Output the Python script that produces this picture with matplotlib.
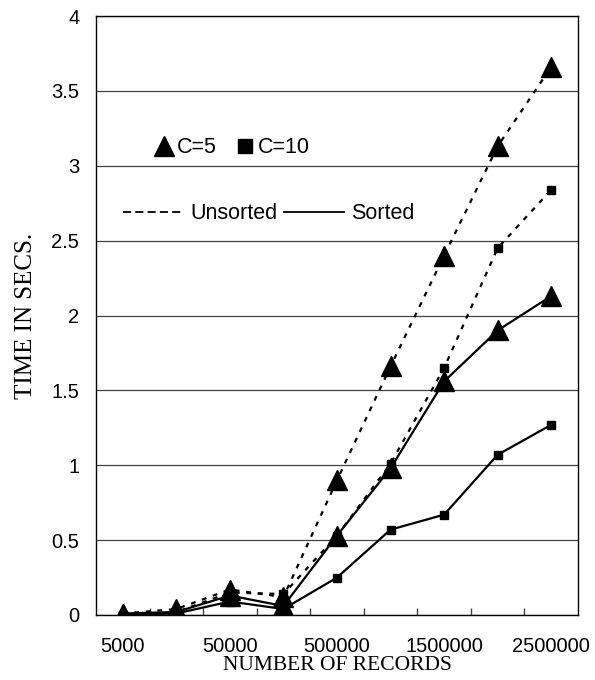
import matplotlib
matplotlib.use("Agg")
import matplotlib.pyplot as plt
import numpy as np
from matplotlib.lines import Line2D

records = ["5000", "10000", "50000", "100000", "500000",
           "1000000", "1500000", "2000000", "2500000"]
unsorted_c5 = [0.01, 0.04, 0.17, 0.12, 0.90, 1.66, 2.40, 3.13, 3.66]
sorted_c5 = [0.01, 0.02, 0.13, 0.06, 0.53, 0.98, 1.56, 1.90, 2.13]
unsorted_c10 = [0.00, 0.02, 0.15, 0.14, 0.53, 1.01, 1.65, 2.45, 2.84]
sorted_c10 = [0.00, 0.01, 0.09, 0.04, 0.25, 0.57, 0.67, 1.07, 1.27]
y_ticks = [0, 0.5, 1, 1.5, 2, 2.5, 3, 3.5, 4]

sans = "Liberation Sans"
serif = "Liberation Serif"

fig = plt.figure(figsize=(5.95, 6.8), dpi=100)
ax = fig.add_axes([96 / 595, 65 / 680, 482 / 595, 599 / 680])

x = np.arange(len(records))
dash = (0, (2.2, 3.0))

ax.plot(x, unsorted_c5, color="black", lw=1.6, ls=dash, marker="^", ms=14, zorder=3)
ax.plot(x, unsorted_c10, color="black", lw=1.6, ls=dash, marker="s", ms=6, zorder=3)
ax.plot(x, sorted_c5, color="black", lw=1.6, ls="-", marker="^", ms=14, zorder=3)
ax.plot(x, sorted_c10, color="black", lw=1.6, ls="-", marker="s", ms=6, zorder=3)

ax.set_xlim(-0.5, len(records) - 0.5)
ax.set_ylim(0, 4)
ax.set_yticks(y_ticks)
ax.set_yticklabels(["%g" % v for v in y_ticks], fontsize=14.5, family=sans)
ax.yaxis.grid(True, color="#444444", lw=0.9)
ax.set_axisbelow(True)
ax.tick_params(axis="y", length=0, pad=12)

# category labels every other slot, boundary ticks pointing in
ax.set_xticks(x[::2])
ax.set_xticklabels(records[::2], fontsize=14.5, family=sans)
ax.tick_params(axis="x", length=0, pad=16)
ax.set_xticks(np.arange(0.5, len(records) - 0.5, 1), minor=True)
ax.tick_params(axis="x", which="minor", direction="in", length=5, width=1, color="#444444")

for s in ax.spines.values():
    s.set_linewidth(1.0)

ax.set_xlabel("NUMBER OF RECORDS", fontsize=15.5, family=serif, labelpad=0)
ax.set_ylabel("TIME IN SECS.", fontsize=18, family=serif, labelpad=10)

mk = [Line2D([], [], color="black", ls="none", marker="^", ms=15),
      Line2D([], [], color="black", ls="none", marker="s", ms=10)]
leg1 = ax.legend(mk, ["C=5", "C=10"], ncol=2, frameon=False,
                 prop={"family": sans, "size": 15.5},
                 handlelength=0.8, handletextpad=0.2, columnspacing=0.92,
                 loc="center left", bbox_to_anchor=(0.082, 0.78))
ax.add_artist(leg1)
ln = [Line2D([], [], color="black", lw=1.3, ls=(0, (4.5, 2.3))),
      Line2D([], [], color="black", lw=1.3, ls="-")]
ax.legend(ln, ["Unsorted", "Sorted"], ncol=2, frameon=False,
          prop={"family": sans, "size": 15.5},
          handlelength=2.8, handletextpad=0.33, columnspacing=0.3,
          loc="center left", bbox_to_anchor=(0.015, 0.67))

fig.savefig("out.png", dpi=100)
